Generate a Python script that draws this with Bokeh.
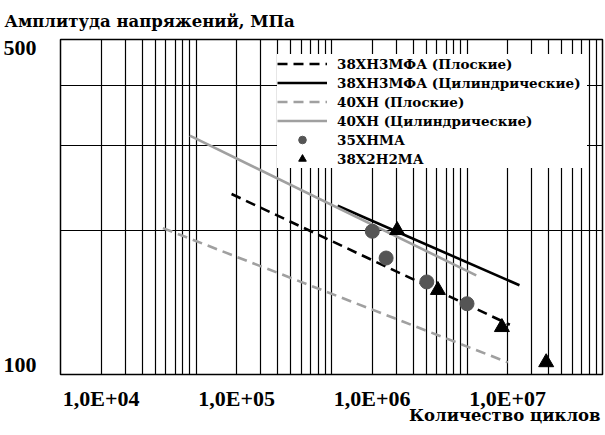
from bokeh.plotting import figure
from bokeh.models import FixedTicker, Range1d, CustomJSTickFormatter, Title
from bokeh.embed import file_html
from bokeh.resources import INLINE

# ---- data ----
# 38ХН3МФА (Плоские) – black dashed line
s1_n = [1.83e5, 2.07e7]
s1_s = [238, 127]
# 38ХН3МФА (Цилиндрические) – black solid line
s2_n = [1.11e6, 2.44e7]
s2_s = [225, 153.5]
# 40ХН (Плоские) – grey dashed line
s3_n = [5.7e4, 2.0e7]
s3_s = [202, 106]
# 40ХН (Цилиндрические) – grey solid line
s4_n = [9.0e4, 1.17e7]
s4_s = [315, 161]
# 35ХНМА – points
p35_n = [2.0e6, 2.53e6, 5.05e6, 1.0e7]
p35_s = [199, 175, 156, 140.5]
# 38Х2Н2МА – points
p38_n = [3.05e6, 6.1e6, 1.81e7, 3.84e7]
p38_s = [200, 150, 125.5, 106]

series_names = ["38ХН3МФА (Плоские)", "38ХН3МФА (Цилиндрические)",
                "40ХН (Плоские)", "40ХН (Цилиндрические)", "35ХНМА", "38Х2Н2МА"]

x_ticks = [1e4, 1e5, 1e6, 1e7]
x_tick_labels = ["1,0E+04", "1,0E+05", "1,0E+06", "1,0E+07"]
y_ticks = [100, 500]
y_tick_labels = ["100", "500"]
y_grid_values = [200, 300, 400]
x_grid_values = [m * 10 ** k for k in range(4, 8) for m in range(1, 10)] + [1e8]

y_title = "Амплитуда напряжений, МПа"
x_title = "Количество циклов"

# In the reference the tick texts sit beside (not centred on) their ticks
X_LABEL_SHIFT = 0.30             # decades to the right
Y_LABEL_SHIFT = [0.019, -0.017]  # decades (100 up a little, 500 down a little)
x_label_pos = [t * 10 ** X_LABEL_SHIFT for t in x_ticks]
y_label_pos = [t * 10 ** s for t, s in zip(y_ticks, Y_LABEL_SHIFT)]

FONT_NUM = "Liberation Serif"   # digits / latin
FONT_CYR = "DejaVu Serif"       # serif face with bold Cyrillic

p = figure(frame_width=542, frame_height=335, x_axis_type="log", y_axis_type="log",
           x_range=Range1d(1e4, 1e8), y_range=Range1d(100, 500),
           output_backend="svg", toolbar_location=None,
           min_border_left=53, min_border_right=2,
           min_border_top=34, min_border_bottom=0)

p.background_fill_color = "white"
p.border_fill_color = "white"
p.outline_line_color = "black"
p.outline_line_width = 1.5

# title (y quantity) at the top-left
p.title.text = y_title
p.title.align = "left"
p.title.offset = -56
p.title.standoff = 18
p.title.text_font = FONT_CYR
p.title.text_font_style = "bold"
p.title.text_font_size = "16.5px"
p.title.text_color = "black"

# grids
p.xgrid.ticker = FixedTicker(ticks=x_grid_values)
p.xgrid.grid_line_color = "black"
p.xgrid.grid_line_width = 1.2
p.ygrid.ticker = FixedTicker(ticks=y_grid_values)
p.ygrid.grid_line_color = "black"
p.ygrid.grid_line_width = 1.2

# x axis
xa = p.xaxis[0]
xa.ticker = FixedTicker(ticks=x_label_pos)
xa.formatter = CustomJSTickFormatter(args=dict(labels=x_tick_labels),
                                     code="return labels[index];")
xa.axis_line_color = None
xa.major_tick_line_color = None
xa.minor_tick_line_color = None
xa.major_label_standoff = 5
xa.major_label_text_font = FONT_NUM
xa.major_label_text_font_style = "bold"
xa.major_label_text_font_size = "22px"
xa.major_label_text_color = "black"

# x quantity, right-aligned under the axis
xt = Title(text=x_title, align="right", offset=2, vertical_align="top",
           standoff=-15, text_font=FONT_CYR, text_font_style="bold",
           text_font_size="16.5px", text_color="black")
p.add_layout(xt, "below")
# a thin blank strip under it, so that the title stays inside the canvas
p.add_layout(Title(text=" ", standoff=0, text_font_size="12px"), "below")

# y axis
ya = p.yaxis[0]
ya.ticker = FixedTicker(ticks=y_label_pos)
ya.formatter = CustomJSTickFormatter(args=dict(labels=y_tick_labels),
                                     code="return labels[index];")
ya.axis_line_color = None
ya.major_tick_line_color = None
ya.minor_tick_line_color = None
ya.major_label_standoff = 18
ya.major_label_text_font = FONT_NUM
ya.major_label_text_font_style = "bold"
ya.major_label_text_font_size = "22px"
ya.major_label_text_color = "black"

# series
p.line(s1_n, s1_s, line_color="black", line_width=2.6, line_dash="10 6",
       legend_label=series_names[0])
p.line(s2_n, s2_s, line_color="black", line_width=2.6,
       legend_label=series_names[1])
p.line(s3_n, s3_s, line_color="#a0a0a0", line_width=2.6, line_dash="10 6",
       legend_label=series_names[2])
p.line(s4_n, s4_s, line_color="#a0a0a0", line_width=2.6,
       legend_label=series_names[3])
p.scatter(p35_n, p35_s, marker="circle", size=14, fill_color="#555555",
          line_color="#555555", legend_label=series_names[4])
p.scatter(p38_n, p38_s, marker="triangle", size=15, fill_color="black",
          line_color="black", legend_label=series_names[5])

lg = p.legend[0]
lg.location = (217, 206)
lg.margin = 0
lg.padding = 5
lg.spacing = 0
lg.border_line_color = None
lg.background_fill_color = "white"
lg.background_fill_alpha = 1.0
lg.glyph_width = 50
lg.glyph_height = 19
lg.label_height = 19
lg.label_width = 250
lg.label_standoff = 10
lg.label_text_font = FONT_CYR
lg.label_text_font_style = "bold"
lg.label_text_font_size = "13.5px"
lg.label_text_color = "black"

open("out.html", "w").write(file_html(p, INLINE))
